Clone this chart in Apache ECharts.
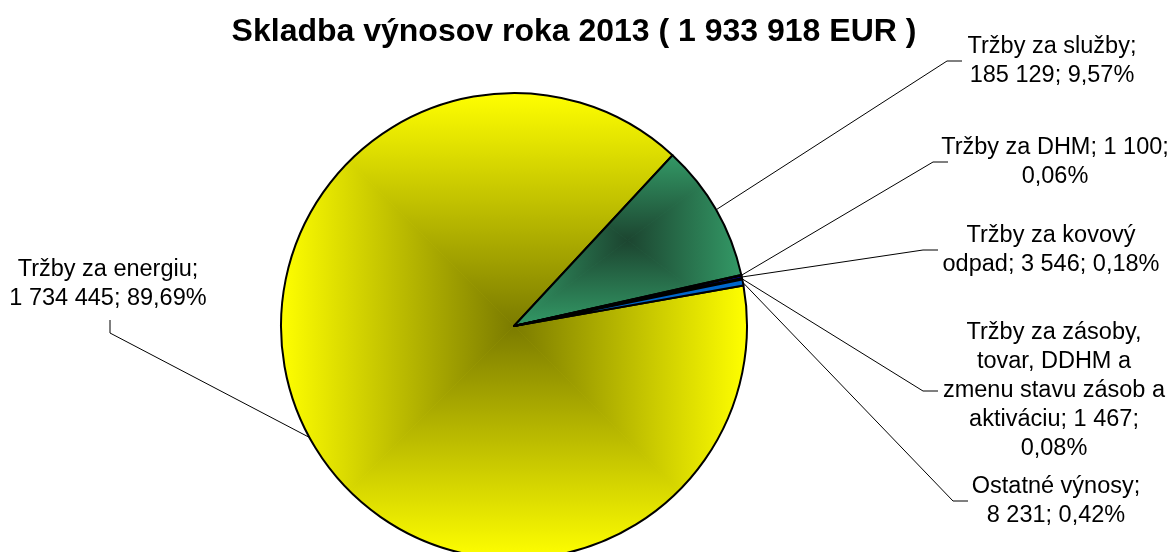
<!DOCTYPE html>
<html>
<head>
<meta charset="utf-8">
<script src="https://cdn.jsdelivr.net/npm/echarts@6/dist/echarts.min.js"></script>
<style>
  html, body { margin: 0; padding: 0; background: #fff; }
  #chart { width: 1171px; height: 552px; }
</style>
</head>
<body>
<div id="chart"></div>
<script>
// data
const categories = [
  'Tržby za energiu',
  'Tržby za služby',
  'Tržby za DHM',
  'Tržby za kovový odpad',
  'Tržby za zásoby, tovar, DDHM a zmenu stavu zásob a aktiváciu',
  'Ostatné výnosy'
]
const values = [1734445, 185129, 1100, 3546, 1467, 8231]
const percents = [89.69, 9.57, 0.06, 0.18, 0.08, 0.42]

const W = 1171, H = 552
const CX = 514, CY = 326, R = 233
const START = 10
const FONT_SIZE = 23.5

// label boxes: centre, wrap width, half width of the box (leader line end)
const labelBoxes = [
  { x: 108, y: 284, wrap: 199, side: 'bottom' },
  { x: 1052, y: 61, wrap: 190, half: 90 },
  { x: 1055, y: 162, wrap: 240, half: 107 },
  { x: 1051, y: 250, wrap: 225, half: 113 },
  { x: 1054, y: 391, wrap: 227, half: 116 },
  { x: 1056, y: 501, wrap: 178, half: 88 }
]

// fills: [inner, outer] for the "from centre" gradients, plain colours for the rest
const sliceFills = [
  ['#7b7b00', '#ffff00'],
  ['#1c4530', '#339966'],
  '#000080',
  '#0000ff',
  '#000080',
  '#0066cc'
]

const measure = document.createElement('canvas').getContext('2d')
measure.font = FONT_SIZE + 'px "Liberation Sans"'

function wrapText(text, width) {
  const words = text.split(' ')
  const lines = []
  let cur = ''
  words.forEach(w => {
    const test = cur ? cur + ' ' + w : w
    if (cur && measure.measureText(test).width > width) {
      lines.push(cur)
      cur = w
    } else {
      cur = test
    }
  })
  if (cur) lines.push(cur)
  return lines.join('\n')
}

function fmtNum(n) {
  return String(n).replace(/\B(?=(\d{3})+(?!\d))/g, ' ')
}

// bounding box of a slice, angles in degrees, counter-clockwise from 3 o'clock
function sectorBox(a0, a1) {
  const pts = [[CX, CY]]
  const add = a => {
    const t = a * Math.PI / 180
    pts.push([CX + R * Math.cos(t), CY - R * Math.sin(t)])
  }
  add(a0); add(a1)
  for (let k = Math.ceil(a1 / 90) * 90; k <= a0; k += 90) add(k)
  const xs = pts.map(p => p[0]), ys = pts.map(p => p[1])
  return [Math.min(...xs), Math.min(...ys), Math.max(...xs), Math.max(...ys)]
}

// Excel-like rectangular gradient from the box centre, as a canvas pattern
function rectGradient(box, inner, outer) {
  const cv = document.createElement('canvas')
  cv.width = W; cv.height = H
  const ctx = cv.getContext('2d')
  const [x0, y0, x1, y1] = box
  const mx = (x0 + x1) / 2, my = (y0 + y1) / 2
  ctx.fillStyle = outer
  ctx.fillRect(0, 0, W, H)
  const tri = (ax, ay, bx, by, ex, ey) => {
    const g = ctx.createLinearGradient(mx, my, ex, ey)
    g.addColorStop(0, inner)
    g.addColorStop(1, outer)
    ctx.fillStyle = g
    ctx.beginPath()
    ctx.moveTo(mx, my)
    ctx.lineTo(ax, ay)
    ctx.lineTo(bx, by)
    ctx.closePath()
    ctx.fill()
    ctx.strokeStyle = g
    ctx.lineWidth = 0.6
    ctx.stroke()
  }
  tri(x0, y0, x1, y0, mx, y0)
  tri(x0, y1, x1, y1, mx, y1)
  tri(x0, y0, x0, y1, x0, my)
  tri(x1, y0, x1, y1, x1, my)
  return { image: cv, repeat: 'no-repeat' }
}

const total = values.reduce((s, v) => s + v, 0)
let angle = START
const colors = values.map((v, i) => {
  const span = v / total * 360
  const a0 = angle, a1 = angle - span
  angle = a1
  const f = sliceFills[i]
  if (Array.isArray(f)) {
    let lo = a1, hi = a0
    while (lo < -180) { lo += 360; hi += 360 }
    return rectGradient(sectorBox(hi, lo), f[0], f[1])
  }
  return f
})

const chart = echarts.init(document.getElementById('chart'))

chart.setOption({
  animation: false,
  title: {
    text: 'Skladba výnosov roka 2013 ( 1 933 918 EUR )',
    left: 569,
    top: 11,
    textAlign: 'center',
    textStyle: {
      fontFamily: 'Liberation Sans',
      fontSize: 32,
      fontWeight: 'bold',
      color: '#000'
    }
  },
  series: [{
    type: 'pie',
    center: [CX, CY],
    radius: R,
    startAngle: START,
    clockwise: true,
    avoidLabelOverlap: false,
    emphasis: { disabled: true },
    itemStyle: { borderColor: '#000', borderWidth: 2 },
    label: {
      show: true,
      position: 'outside',
      fontFamily: 'Liberation Sans',
      fontSize: FONT_SIZE,
      color: '#000',
      lineHeight: 29,
      align: 'center',
      formatter: (p) => wrapText(
        `${p.name}; ${fmtNum(p.value)}; ${percents[p.dataIndex].toFixed(2).replace('.', ',')}%`,
        labelBoxes[p.dataIndex].wrap
      )
    },
    labelLine: {
      show: true,
      length: 20,
      length2: 15,
      lineStyle: { color: '#000', width: 1 }
    },
    labelLayout: (params) => {
      const box = labelBoxes[params.dataIndex]
      const rect = params.labelRect
      const anchor = params.labelLinePoints ? params.labelLinePoints[0] : null
      let end, elbow
      if (box.side === 'bottom') {
        end = [box.x + 2, box.y + rect.height / 2 + 7]
        elbow = [box.x + 2, end[1] + 13]
      } else {
        end = [box.x - box.half, box.y]
        elbow = [end[0] - 15, box.y]
      }
      const out = { x: box.x, y: box.y, align: 'center', verticalAlign: 'middle' }
      if (anchor) out.labelLinePoints = [anchor, elbow, end]
      return out
    },
    data: categories.map((name, i) => ({
      name,
      value: values[i],
      itemStyle: { color: colors[i] }
    }))
  }]
})
</script>
</body>
</html>
